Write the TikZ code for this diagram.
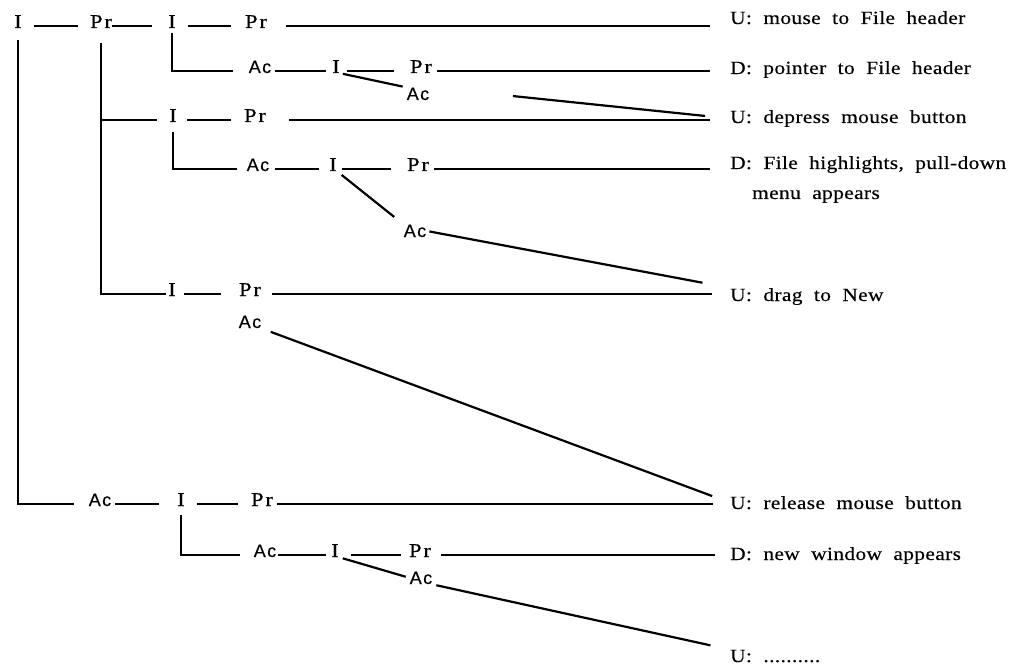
\documentclass[tikz,border=0pt]{standalone}
\usepackage{fontspec}
\newfontfamily\nodeserif{Liberation Serif}[FakeStretch=1.15, LetterSpace=10, FakeBold=0.4]
\newfontfamily\nodesans{Liberation Sans}[LetterSpace=8, FakeBold=0.4]
\newfontfamily\labelserif{Liberation Serif}[FakeStretch=1.15, LetterSpace=2, WordSpace=2, FakeBold=0.3]
\tikzset{
  tok/.style={font=\nodeserif\fontsize{19.5}{22}\selectfont, inner sep=0pt, anchor=base},
  act/.style={font=\nodesans\fontsize{18}{20}\selectfont, inner sep=0pt, anchor=base},
  outl/.style={font=\labelserif\fontsize{18.6}{22}\selectfont, inner sep=0pt, anchor=base west},
  link/.style={line width=2.2pt},
}
\begin{document}
\begin{tikzpicture}[x=1pt, y=-1pt]
\fill[white] (0,0) rectangle (1029,666);
\useasboundingbox (0,0) rectangle (1029,666);

% row 1
\node[tok] (i0) at (18,28) {I};
\node[tok] (p0) at (101,28) {Pr};
\node[tok] (i1) at (172,28) {I};
\node[tok] (p1) at (256,28) {Pr};
\node[outl] (t1) at (730,24) {U: mouse to File header};
% row 2
\node[act] (a2) at (260,73) {Ac};
\node[tok] (i2) at (336,73) {I};
\node[tok] (p2) at (421,73) {Pr};
\node[act] (x2) at (418,100) {Ac};
\node[outl] (t2) at (730,74) {D: pointer to File header};
% row 3
\node[tok] (i3) at (173,122) {I};
\node[tok] (p3) at (255,122) {Pr};
\node[outl] (t3) at (730,123) {U: depress mouse button};
% row 4
\node[act] (a4) at (258,171) {Ac};
\node[tok] (i4) at (333,171) {I};
\node[tok] (p4) at (418,171) {Pr};
\node[act] (x4) at (415,237) {Ac};
\node[outl] (t4) at (730,169) {D: File highlights, pull-down};
\node[outl] (t4b) at (752,199) {menu appears};
% row 5
\node[tok] (i5) at (172,296) {I};
\node[tok] (p5) at (250,296) {Pr};
\node[act] (x5) at (250,328) {Ac};
\node[outl] (t5) at (730,301) {U: drag to New};
% row 6
\node[act] (a6) at (100,506) {Ac};
\node[tok] (i6) at (181,506) {I};
\node[tok] (p6) at (262,506) {Pr};
\node[outl] (t6) at (730,509) {U: release mouse button};
% row 7
\node[act] (a7) at (265,557) {Ac};
\node[tok] (i7) at (335,557) {I};
\node[tok] (p7) at (420,557) {Pr};
\node[act] (x7) at (421,584) {Ac};
\node[outl] (t7) at (730,560) {D: new window appears};
% row 8
\node[outl] (t8) at (730,662) {U: ..........};

% row 1 links
\draw[link, shorten <=12, shorten >=12] (i0.mid east) -- (p0.mid west);
\draw[link, shorten >=16] (p0.mid east) -- (i1.mid west);
\draw[link, shorten <=12, shorten >=14] (i1.mid east) -- (p1.mid west);
\draw[link, shorten <=19, shorten >=20] (p1.mid east) -- (p1.mid east -| t1.west);
% row 2 links
\draw[link, shorten <=5, shorten >=16] (i1.south) |- (a2.mid west);
\draw[link, shorten <=4, shorten >=6] (a2.mid east) -- (i2.mid west);
\draw[link, shorten <=7, shorten >=16] (i2.mid east) -- (p2.mid west);
\draw[link, shorten <=5, shorten >=20] (p2.mid east) -- (p2.mid east -| t2.west);
\draw[link, shorten <=3, shorten >=4] (i2.south east) -- (x2.north west);
\draw[link, shorten <=84, shorten >=25] (x2.north east) -- (t3.west);
% row 3 links
\draw[link, shorten <=15, shorten >=2] (p0.south) |- (i5.mid west);
\draw[link, shorten >=12] (i3.mid west -| p0.south) -- (i3.mid west);
\draw[link, shorten <=10, shorten >=13] (i3.mid east) -- (p3.mid west);
\draw[link, shorten <=23, shorten >=20] (p3.mid east) -- (p3.mid east -| t3.west);
% row 4 links
\draw[link, shorten <=10, shorten >=10] (i3.south) |- (a4.mid west);
\draw[link, shorten <=6, shorten >=10] (a4.mid east) -- (i4.mid west);
\draw[link, shorten <=5, shorten >=16] (i4.mid east) -- (p4.mid west);
\draw[link, shorten <=5, shorten >=20] (p4.mid east) -- (p4.mid east -| t4.west);
\draw[link, shorten <=6, shorten >=12] (i4.south east) -- (x4.north west);
\draw[link, shorten <=3, shorten >=28] (x4.east) -- (t5.north west);
% row 5 links
\draw[link, shorten <=8, shorten >=18] (i5.mid east) -- (p5.mid west);
\draw[link, shorten <=11, shorten >=18] (p5.mid east) -- (p5.mid east -| t5.west);
\draw[link, shorten <=10, shorten >=19] (x5.south east) -- (t6.west);
% row 6 links
\draw[link, shorten <=12, shorten >=15] (i0.south) |- (a6.mid west);
\draw[link, shorten <=4, shorten >=18] (a6.mid east) -- (i6.mid west);
\draw[link, shorten <=12, shorten >=13] (i6.mid east) -- (p6.mid west);
\draw[link, shorten <=4, shorten >=17] (p6.mid east) -- (p6.mid east -| t6.west);
% row 7 links
\draw[link, shorten <=9, shorten >=14] (i6.south) |- (a7.mid west);
\draw[link, shorten <=2, shorten >=5] (a7.mid east) -- (i7.mid west);
\draw[link, shorten <=12, shorten >=8] (i7.mid east) -- (p7.mid west);
\draw[link, shorten <=10, shorten >=15] (p7.mid east) -- (p7.mid east -| t7.west);
\draw[link, shorten <=4, shorten >=4] (i7.south east) -- (x7.west);
\draw[link, shorten <=4, shorten >=20] (x7.south east) -- (t8.north west);
\end{tikzpicture}
\end{document}
